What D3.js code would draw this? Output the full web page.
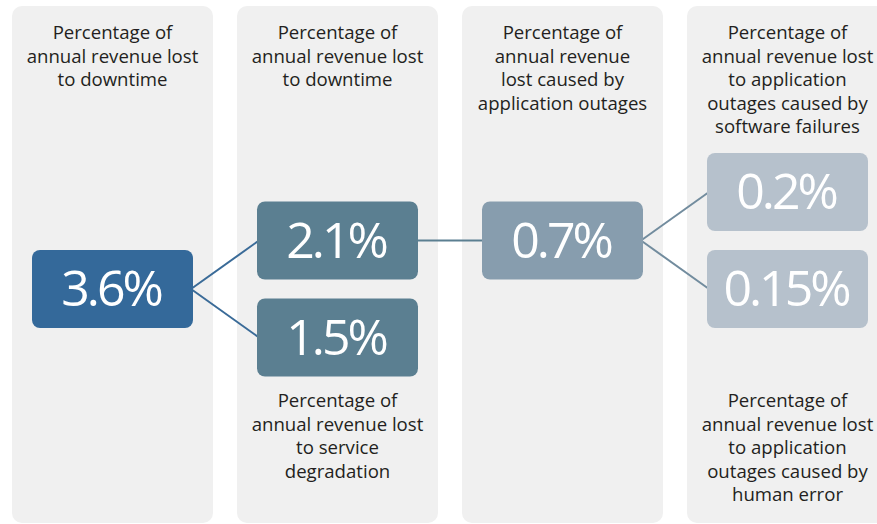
<!DOCTYPE html>
<html>
<head>
<meta charset="utf-8">
<script src="https://cdn.jsdelivr.net/npm/d3@7"></script>
<style>
  body { margin: 0; background: #fff; }
  svg { display: block; font-family: "Open Sans", sans-serif; }
</style>
</head>
<body>
<div class="visHolder"></div>
<script>
const w = 877;
const h = 524;

// columns and their captions
const columns = ["downtime", "split", "outages", "causes"];
const headerLabels = [
    ["Percentage of", "annual revenue lost", "to downtime"],
    ["Percentage of", "annual revenue lost", "to downtime"],
    ["Percentage of", "annual revenue", "lost caused by", "application outages"],
    ["Percentage of", "annual revenue lost", "to application", "outages caused by", "software failures"]
];
const footerLabels = [
    [],
    ["Percentage of", "annual revenue lost", "to service", "degradation"],
    [],
    ["Percentage of", "annual revenue lost", "to application", "outages caused by", "human error"]
];

// nodes of the breakdown
const nodeValues = [3.6, 2.1, 1.5, 0.7, 0.2, 0.15];
const nodeLabels = ["3.6%", "2.1%", "1.5%", "0.7%", "0.2%", "0.15%"];
const nodeColumn = [0, 1, 1, 2, 3, 3];
const nodeParent = [-1, 0, 0, 1, 3, 3];

const boxColors = ["#34699a", "#5b7f91", "#879dae", "#b6c1cc"];
const linkColors = ["#3a6b98", "#5b7f91", "#728c9e", "#728c9e"];

// work out a vertical slot for every node: two children split around the parent
const slot = nodeValues.map(() => 0);
nodeParent.forEach((p, i) => {
    if (p < 0) return;
    const sibs = nodeParent.map((q, j) => q === p ? j : -1).filter(j => j >= 0);
    const k = sibs.indexOf(i);
    slot[i] = slot[p] + (sibs.length === 1 ? 0 : (k === 0 ? -0.5 : 0.5));
});

const svg = d3.select(".visHolder")
    .append("svg")
    .attr("width", w)
    .attr("height", h);

const xScale = d3.scaleBand()
    .domain(columns)
    .range([12, 888])
    .paddingInner(24 / 225);

const yScale = d3.scaleLinear()
    .domain([-1, 1])
    .range([192, 386]);

const boxInset = 20;
const boxW = xScale.bandwidth() - boxInset * 2;
const boxH = 78;

//Panels
svg.selectAll("rect.panel")
    .data(columns)
    .enter()
    .append("rect")
    .attr("class", "panel")
    .attr("x", d => xScale(d))
    .attr("y", 6)
    .attr("width", xScale.bandwidth())
    .attr("height", 517)
    .attr("rx", 10)
    .style("fill", "#f0f0f0");

//Captions
const lineH = 23.5;
columns.forEach((c, i) => {
    const cx = xScale(c) + xScale.bandwidth() / 2;
    svg.append("text")
        .attr("class", "header")
        .attr("text-anchor", "middle")
        .style("font-size", "18.6px")
        .style("fill", "#231f20")
        .selectAll("tspan")
        .data(headerLabels[i])
        .enter()
        .append("tspan")
        .attr("x", cx)
        .attr("y", (d, j) => 39 + j * lineH)
        .text(d => d);

    svg.append("text")
        .attr("class", "footer")
        .attr("text-anchor", "middle")
        .style("font-size", "18.6px")
        .style("fill", "#231f20")
        .selectAll("tspan")
        .data(footerLabels[i])
        .enter()
        .append("tspan")
        .attr("x", cx)
        .attr("y", (d, j) => 407 + j * lineH)
        .text(d => d);
});

const nodes = nodeValues.map((v, i) => ({
    i: i,
    value: v,
    label: nodeLabels[i],
    col: nodeColumn[i],
    x: xScale(columns[nodeColumn[i]]) + boxInset,
    cy: yScale(slot[i])
}));

//Links
svg.selectAll("line.link")
    .data(nodes.filter(d => nodeParent[d.i] >= 0))
    .enter()
    .append("line")
    .attr("class", "link")
    .attr("x1", d => nodes[nodeParent[d.i]].x + boxW - 2)
    .attr("y1", d => nodes[nodeParent[d.i]].cy)
    .attr("x2", d => d.x + 2)
    .attr("y2", d => d.cy)
    .style("stroke", d => linkColors[nodes[nodeParent[d.i]].col])
    .style("stroke-width", 2);

//Boxes
const box = svg.selectAll("g.node")
    .data(nodes)
    .enter()
    .append("g")
    .attr("class", "node");

box.append("rect")
    .attr("x", d => d.x)
    .attr("y", d => d.cy - boxH / 2)
    .attr("width", boxW)
    .attr("height", boxH)
    .attr("rx", 8)
    .style("fill", d => boxColors[d.col]);

box.append("text")
    .attr("x", d => d.x + boxW / 2 - 1.5)
    .attr("y", d => d.cy + 17)
    .attr("text-anchor", "middle")
    .style("font-size", "50px")
    .style("letter-spacing", "-3px")
    .style("fill", "#fff")
    .text(d => d.label);
</script>
</body>
</html>
